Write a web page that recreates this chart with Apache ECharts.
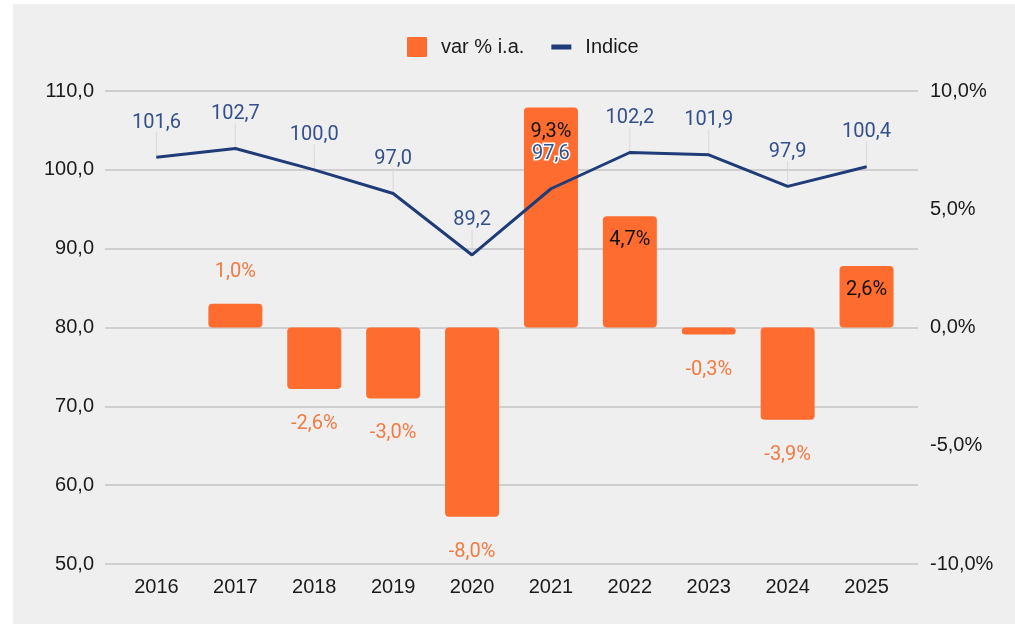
<!DOCTYPE html>
<html>
<head>
<meta charset="utf-8">
<title>Indice e var % i.a.</title>
<script src="https://cdn.jsdelivr.net/npm/echarts@6/dist/echarts.min.js"></script>
<style>
  html, body {
    margin: 0;
    padding: 0;
    background: #ffffff;
  }
  #bg {
    position: absolute;
    left: 13px;
    top: 4px;
    width: 1002px;
    height: 620px;
    background: #efefef;
  }
  #chart {
    position: absolute;
    left: 0;
    top: 0;
    width: 1015px;
    height: 625px;
  }
</style>
</head>
<body>
<div id="bg"></div>
<div id="chart"></div>
<script>
  // dati
  var anni = ["2016", "2017", "2018", "2019", "2020", "2021", "2022", "2023", "2024", "2025"];
  var varPct = [null, 1.0, -2.6, -3.0, -8.0, 9.3, 4.7, -0.3, -3.9, 2.6];
  var indice = [101.6, 102.7, 100.0, 97.0, 89.2, 97.6, 102.2, 101.9, 97.9, 100.4];
  var etichetteBordate = ["2021"]; // etichetta dell'indice sopra la barra

  var arancio = "#fe6d2f";
  var blu = "#1f3c78";
  var fmt = function (v) { return v.toFixed(1).replace(".", ","); };

  var barData = varPct.map(function (v) {
    if (v === null) return "-";
    if (v > 2) {
      return { value: v, label: { position: "insideTop", distance: 14, color: "#111111" } };
    }
    if (v >= 0) {
      return { value: v, label: { position: "top", distance: 22, color: "#f37a42" } };
    }
    return { value: v, label: { position: "bottom", distance: 25, color: "#f37a42" } };
  });

  var lineData = indice.map(function (v, i) {
    if (etichetteBordate.indexOf(anni[i]) >= 0) {
      return { value: v, label: { textBorderColor: "#ffffff", textBorderWidth: 3 } };
    }
    return v;
  });

  var chart = echarts.init(document.getElementById("chart"));
  chart.setOption({
    animation: false,
    legend: {
      left: 402,
      top: 32,
      itemWidth: 20,
      itemHeight: 20,
      itemGap: 27,
      textStyle: {
        fontFamily: "Liberation Sans",
        fontSize: 20,
        color: "#1a1a1a",
        padding: [0, 0, 0, 9]
      },
      data: [
        { name: "var % i.a.", icon: "path://M1,0H19Q20,0 20,1V19Q20,20 19,20H1Q0,20 0,19V1Q0,0 1,0Z", itemStyle: { color: arancio } },
        { name: "Indice", icon: "path://M0,0L0,0.01Z M0,7.6H20V12.4H0Z M20,19.99L20,20Z", itemStyle: { color: blu } }
      ]
    },
    grid: [
      { left: 105, right: 97, top: 91, bottom: 61 },
      { left: 117, right: 109, top: 91, bottom: 61 }
    ],
    xAxis: [
      { gridIndex: 0, type: "value", show: false },
      {
        gridIndex: 1,
        type: "category",
        data: anni,
        axisLine: { show: false },
        axisTick: { show: false },
        axisLabel: {
          margin: 13,
          fontFamily: "Liberation Sans",
          fontSize: 20,
          color: "#1a1a1a"
        }
      }
    ],
    yAxis: [
      {
        gridIndex: 0,
        type: "value",
        position: "left",
        min: 50,
        max: 110,
        interval: 10,
        axisLine: { show: false },
        axisTick: { show: false },
        axisLabel: {
          margin: 11,
          fontFamily: "Liberation Sans",
          fontSize: 20,
          color: "#1a1a1a",
          formatter: function (v) { return fmt(v); }
        },
        splitLine: { lineStyle: { color: "#c4c4c4", width: 1.5 } }
      },
      {
        gridIndex: 0,
        type: "value",
        position: "right",
        min: -10,
        max: 10,
        interval: 5,
        axisLine: { show: false },
        axisTick: { show: false },
        splitLine: { show: false },
        axisLabel: {
          margin: 12,
          fontFamily: "Liberation Sans",
          fontSize: 20,
          color: "#1a1a1a",
          formatter: function (v) { return fmt(v) + "%"; }
        }
      },
      { gridIndex: 1, type: "value", min: 50, max: 110, show: false, splitLine: { show: false } },
      { gridIndex: 1, type: "value", min: -10, max: 10, show: false, splitLine: { show: false } }
    ],
    series: [
      {
        name: "var % i.a.",
        type: "bar",
        xAxisIndex: 1,
        yAxisIndex: 3,
        barWidth: 54,
        z: 2,
        itemStyle: { color: arancio, borderRadius: 4 },
        label: {
          show: true,
          fontFamily: "Roboto",
          fontSize: 20,
          formatter: function (p) { return fmt(p.value) + "%"; }
        },
        data: barData
      },
      {
        name: "guide",
        type: "scatter",
        xAxisIndex: 1,
        yAxisIndex: 2,
        silent: true,
        z: 1,
        symbol: "rect",
        symbolSize: [1, 25],
        symbolOffset: [0, -12.5],
        itemStyle: { color: "#d2d2d2" },
        data: indice
      },
      {
        name: "Indice",
        type: "line",
        xAxisIndex: 1,
        yAxisIndex: 2,
        z: 3,
        symbol: "circle",
        symbolSize: 1,
        showSymbol: true,
        lineStyle: { color: blu, width: 3 },
        itemStyle: { color: blu },
        label: {
          show: true,
          position: "top",
          distance: 24,
          fontFamily: "Roboto",
          fontSize: 20,
          color: "#34508c",
          formatter: function (p) { return fmt(p.value); }
        },
        data: lineData
      }
    ]
  });
</script>
</body>
</html>
